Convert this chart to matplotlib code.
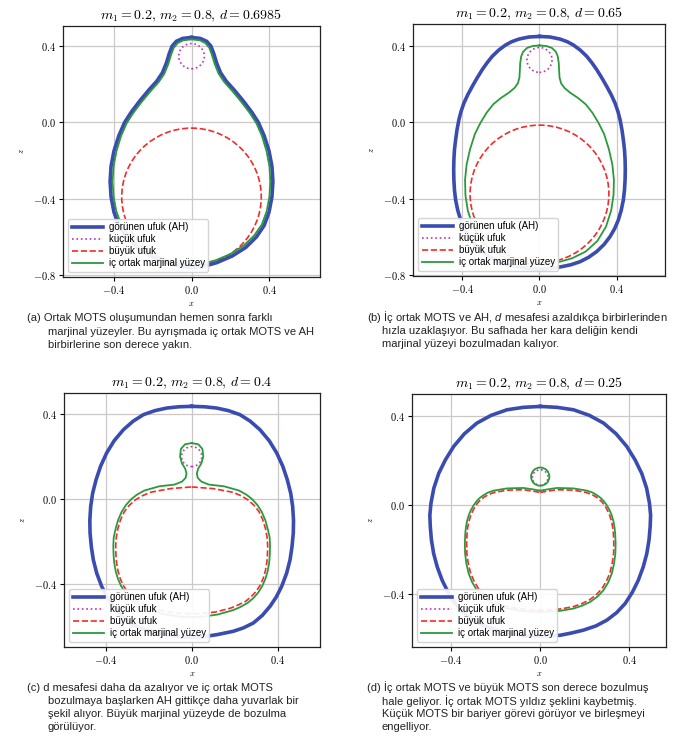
import numpy as np
import matplotlib
matplotlib.use("Agg")
import matplotlib.pyplot as plt
from matplotlib.patches import Circle
from matplotlib.lines import Line2D
from matplotlib.ticker import FuncFormatter

plt.rcParams['font.family'] = ['Liberation Sans', 'DejaVu Sans']
plt.rcParams['mathtext.fontset'] = 'cm'
plt.rcParams['mathtext.rm'] = 'Liberation Sans'
plt.rcParams['mathtext.it'] = 'Liberation Sans:italic'

W, H = 673, 736

# parameters of the four snapshots
m1, m2 = 0.2, 0.8
d_values = [0.6985, 0.65, 0.4, 0.25]

# right halves (x >= 0) of the symmetric curves, from top to bottom, (x, z)
ah_a = [(0, 0.445), (0.045, 0.440), (0.078, 0.425), (0.1, 0.40), (0.115, 0.36),
        (0.13, 0.31), (0.15, 0.26), (0.18, 0.215), (0.22, 0.17), (0.265, 0.115),
        (0.31, 0.055), (0.345, 0.0), (0.375, -0.07), (0.40, -0.15), (0.415, -0.23),
        (0.42, -0.31), (0.415, -0.39), (0.40, -0.47), (0.375, -0.54), (0.335, -0.60),
        (0.28, -0.655), (0.21, -0.70), (0.13, -0.735), (0.06, -0.755), (0, -0.76)]
inner_a = [(0, 0.435), (0.043, 0.43), (0.072, 0.415), (0.092, 0.39), (0.105, 0.355),
           (0.12, 0.305), (0.14, 0.255), (0.17, 0.21), (0.21, 0.165), (0.255, 0.11),
           (0.30, 0.05), (0.335, -0.005), (0.363, -0.07), (0.387, -0.15), (0.402, -0.23),
           (0.407, -0.31), (0.402, -0.39), (0.388, -0.465), (0.363, -0.535), (0.323, -0.593),
           (0.27, -0.645), (0.2, -0.69), (0.125, -0.722), (0.06, -0.74), (0, -0.745)]

ah_b = [(0, 0.450), (0.055, 0.447), (0.107, 0.436), (0.145, 0.422), (0.176, 0.405),
        (0.212, 0.378), (0.245, 0.346), (0.272, 0.312), (0.297, 0.276), (0.324, 0.232),
        (0.349, 0.188), (0.372, 0.145), (0.392, 0.101), (0.407, 0.057), (0.418, 0.014),
        (0.428, -0.04), (0.435, -0.091), (0.441, -0.143), (0.444, -0.195), (0.445, -0.248),
        (0.444, -0.300), (0.441, -0.352), (0.435, -0.405), (0.424, -0.459), (0.409, -0.510),
        (0.39, -0.555), (0.366, -0.597), (0.335, -0.638), (0.297, -0.675), (0.255, -0.705),
        (0.211, -0.728), (0.163, -0.744), (0.116, -0.754), (0.05, -0.765), (0, -0.768)]
inner_b = [(0, 0.403), (0.035, 0.40), (0.064, 0.39), (0.085, 0.37), (0.095, 0.345),
           (0.1, 0.31), (0.102, 0.27), (0.104, 0.235), (0.112, 0.205), (0.13, 0.18),
           (0.16, 0.155), (0.2, 0.128), (0.24, 0.095), (0.275, 0.05), (0.305, 0.0),
           (0.335, -0.06), (0.36, -0.14), (0.378, -0.22), (0.386, -0.30), (0.384, -0.38),
           (0.372, -0.46), (0.345, -0.545), (0.3, -0.62), (0.24, -0.675), (0.17, -0.71),
           (0.1, -0.73), (0.04, -0.74), (0, -0.742)]

ah_c = [(0, 0.437), (0.06, 0.435), (0.116, 0.429), (0.17, 0.417), (0.224, 0.398),
        (0.272, 0.367), (0.317, 0.327), (0.36, 0.275), (0.395, 0.217), (0.423, 0.155),
        (0.444, 0.091), (0.46, 0.027), (0.469, -0.035), (0.473, -0.10), (0.472, -0.160),
        (0.466, -0.225), (0.457, -0.286), (0.441, -0.35), (0.418, -0.412), (0.393, -0.462),
        (0.364, -0.506), (0.328, -0.549), (0.286, -0.585), (0.24, -0.608), (0.193, -0.624),
        (0.116, -0.640), (0.05, -0.65), (0, -0.652)]
inner_c = [(0, 0.264), (0.031, 0.258), (0.05, 0.236), (0.054, 0.201), (0.045, 0.168),
           (0.03, 0.143), (0.024, 0.12), (0.028, 0.10), (0.045, 0.082), (0.08, 0.068),
           (0.15, 0.06), (0.22, 0.04), (0.255, 0.02), (0.28, 0.0), (0.305, -0.028),
           (0.325, -0.06), (0.342, -0.1), (0.353, -0.14), (0.362, -0.18), (0.364, -0.22),
           (0.363, -0.26), (0.36, -0.30), (0.353, -0.34), (0.343, -0.375), (0.328, -0.41),
           (0.31, -0.44), (0.287, -0.467), (0.26, -0.49), (0.225, -0.51), (0.19, -0.525),
           (0.12, -0.545), (0.05, -0.555), (0, -0.557)]
big_c = [(0, 0.057), (0.1, 0.049), (0.19, 0.032), (0.228, 0.016), (0.26, -0.003),
         (0.29, -0.03), (0.313, -0.06), (0.33, -0.097), (0.343, -0.14), (0.35, -0.18),
         (0.353, -0.22), (0.352, -0.26), (0.349, -0.30), (0.342, -0.34), (0.332, -0.375),
         (0.318, -0.407), (0.3, -0.435), (0.277, -0.46), (0.25, -0.483), (0.215, -0.5),
         (0.18, -0.515), (0.11, -0.533), (0.05, -0.54), (0, -0.542)]

ah_d = [(0, 0.445), (0.075, 0.441), (0.149, 0.430), (0.22, 0.405), (0.284, 0.370),
        (0.34, 0.322), (0.388, 0.265), (0.425, 0.205), (0.455, 0.144), (0.477, 0.077),
        (0.490, 0.009), (0.495, -0.045), (0.493, -0.096), (0.488, -0.155), (0.478, -0.217),
        (0.462, -0.277), (0.440, -0.337), (0.413, -0.392), (0.381, -0.442), (0.343, -0.483),
        (0.299, -0.517), (0.25, -0.543), (0.194, -0.562), (0.140, -0.575), (0.090, -0.585),
        (0.045, -0.589), (0, -0.59)]
inner_d = [(0, 0.066), (0.035, 0.072), (0.075, 0.078), (0.149, 0.076), (0.209, 0.066),
           (0.235, 0.057), (0.255, 0.045), (0.271, 0.033), (0.284, 0.02), (0.298, 0.001),
           (0.31, -0.02), (0.32, -0.043), (0.328, -0.07), (0.333, -0.098), (0.336, -0.126),
           (0.338, -0.17), (0.337, -0.217), (0.331, -0.263), (0.321, -0.307), (0.305, -0.347),
           (0.284, -0.382), (0.257, -0.411), (0.224, -0.435), (0.188, -0.452), (0.149, -0.465),
           (0.090, -0.475), (0.045, -0.479), (0, -0.48)]
big_d = [(0, 0.058), (0.035, 0.064), (0.075, 0.07), (0.149, 0.068), (0.205, 0.058),
         (0.23, 0.049), (0.25, 0.038), (0.265, 0.026), (0.278, 0.014), (0.291, -0.004),
         (0.302, -0.024), (0.312, -0.047), (0.32, -0.073), (0.325, -0.099), (0.328, -0.126),
         (0.33, -0.17), (0.329, -0.217), (0.323, -0.26), (0.313, -0.303), (0.297, -0.341),
         (0.277, -0.375), (0.25, -0.404), (0.219, -0.427), (0.184, -0.444), (0.146, -0.457),
         (0.088, -0.467), (0.044, -0.471), (0, -0.472)]

# near-circular horizons: (centre z, radius)
small_a, small_b, small_c, small_d = (0.347, 0.066), (0.327, 0.065), (0.20, 0.047), (0.125, 0.035)
big_a, big_b = (-0.39, 0.36), (-0.374, 0.36)
loop_d = (0.129, 0.041)

# axis limits
xlims = [(-0.663, 0.663), (-0.656, 0.651), (-0.593, 0.596), (-0.575, 0.564)]
zlims = [(-0.81, 0.505), (-0.803, 0.515), (-0.698, 0.50), (-0.638, 0.501)]
yticks = [[-0.8, -0.4, 0.0, 0.4], [-0.8, -0.4, 0.0, 0.4], [-0.4, 0.0, 0.4], [-0.4, 0.0, 0.4]]

labels = ['görünen ufuk (AH)', 'küçük ufuk', 'büyük ufuk', 'iç ortak marjinal yüzey']

BLUE = '#3a4cb0'
MAG = '#c030c0'
RED = '#f52a2a'
GREEN = '#2a9a3c'


def mirror(half):
    half = np.asarray(half, dtype=float)
    left = half[::-1].copy()
    left[:, 0] *= -1
    return np.vstack([half, left[1:]])


def draw_curve(ax, half, **kw):
    pts = mirror(half)
    ax.plot(pts[:, 0], pts[:, 1], **kw)


def draw_circle(ax, cz_r, **kw):
    ax.add_patch(Circle((0, cz_r[0]), cz_r[1], fill=False, **kw))


blue_kw = dict(color=BLUE, lw=2.6, solid_joinstyle='round')
mag_kw = dict(ec=MAG, lw=1.2, ls=':')
red_kw = dict(color=RED, lw=1.2, ls='--')
red_patch_kw = dict(ec=RED, lw=1.2, ls='--')
green_kw = dict(color=GREEN, lw=1.3, solid_joinstyle='round')

fig = plt.figure(figsize=(W / 100, H / 100), dpi=100)
boxes = [(63, 26, 320, 277), (413, 24, 665, 276), (64, 393, 320, 647), (412, 394, 666, 647)]
axes = []
for (l, t, r, b) in boxes:
    axes.append(fig.add_axes([l / W, 1 - b / H, (r - l) / W, (b - t) / H]))

ax = axes[0]
draw_curve(ax, ah_a, **blue_kw)
draw_circle(ax, small_a, **mag_kw)
draw_circle(ax, big_a, **red_patch_kw)
draw_curve(ax, inner_a, **green_kw)

ax = axes[1]
draw_curve(ax, ah_b, **blue_kw)
draw_circle(ax, small_b, **mag_kw)
draw_circle(ax, big_b, **red_patch_kw)
draw_curve(ax, inner_b, **green_kw)

ax = axes[2]
draw_curve(ax, ah_c, **blue_kw)
draw_circle(ax, small_c, **mag_kw)
draw_curve(ax, big_c, **red_kw)
draw_curve(ax, inner_c, **green_kw)

ax = axes[3]
draw_curve(ax, ah_d, **blue_kw)
draw_circle(ax, small_d, **mag_kw)
draw_curve(ax, big_d, **red_kw)
draw_curve(ax, inner_d, **green_kw)
draw_circle(ax, loop_d, ec=GREEN, lw=1.3)

handles = [Line2D([], [], color=BLUE, lw=2.6),
           Line2D([], [], color=MAG, lw=1.2, ls=':'),
           Line2D([], [], color=RED, lw=1.2, ls='--'),
           Line2D([], [], color=GREEN, lw=1.3)]

fmt = FuncFormatter(lambda v, p: f'${v:.1f}$')
for i, ax in enumerate(axes):
    ax.set_xlim(*xlims[i])
    ax.set_ylim(*zlims[i])
    ax.set_xticks([-0.4, 0.0, 0.4])
    ax.set_yticks(yticks[i])
    ax.xaxis.set_major_formatter(fmt)
    ax.yaxis.set_major_formatter(fmt)
    ax.tick_params(labelsize=7.5, length=3, width=0.8, pad=2)
    ax.grid(True, color='#cdc8c8', lw=0.9)
    ax.set_axisbelow(True)
    for s in ax.spines.values():
        s.set_linewidth(0.9)
        s.set_color('#222222')
    ax.set_title(f'$m_1 = {m1},\\, m_2 = {m2},\\, d = {d_values[i]}$', fontsize=10, pad=5)
    ax.set_xlabel('$x$', fontsize=6, labelpad=3)
    ax.set_ylabel('$z$', fontsize=6, labelpad=5)
    ax.legend(handles, labels, loc='lower left', fontsize=7, handlelength=3.2,
              labelspacing=0.2, borderpad=0.35, handletextpad=0.6,
              framealpha=0.92, edgecolor='0.82', borderaxespad=0.55)

# captions under the panels
captions = [
    (27, 48, [318, 332, 345], ['(a) Ortak MOTS oluşumundan hemen sonra farklı',
                               'marjinal yüzeyler. Bu ayrışmada iç ortak MOTS ve AH',
                               'birbirlerine son derece yakın.']),
    (367, 382, [317, 331, 344], ['(b) İç ortak MOTS ve AH, $d$ mesafesi azaldıkça birbirlerinden',
                                 'hızla uzaklaşıyor. Bu safhada her kara deliğin kendi',
                                 'marjinal yüzeyi bozulmadan kalıyor.']),
    (27, 48, [688, 701, 714, 727], ['(c) d mesafesi daha da azalıyor ve iç ortak MOTS',
                                    'bozulmaya başlarken AH gittikçe daha yuvarlak bir',
                                    'şekil alıyor. Büyük marjinal yüzeyde de bozulma',
                                    'görülüyor.']),
    (367, 382, [687, 701, 714, 727], ['(d) İç ortak MOTS ve büyük MOTS son derece bozulmuş',
                                      'hale geliyor. İç ortak MOTS yıldız şeklini kaybetmiş.',
                                      'Küçük MOTS bir bariyer görevi görüyor ve birleşmeyi',
                                      'engelliyor.']),
]
for x0, x1, ys, lines in captions:
    for k, (y, line) in enumerate(zip(ys, lines)):
        xp = x0 if k == 0 else x1
        fig.text(xp / W, 1 - y / H, line, fontsize=8.05, va='center', ha='left',
                 color='#222222', math_fontfamily='custom')

fig.savefig('out.png', dpi=100, facecolor='white')
